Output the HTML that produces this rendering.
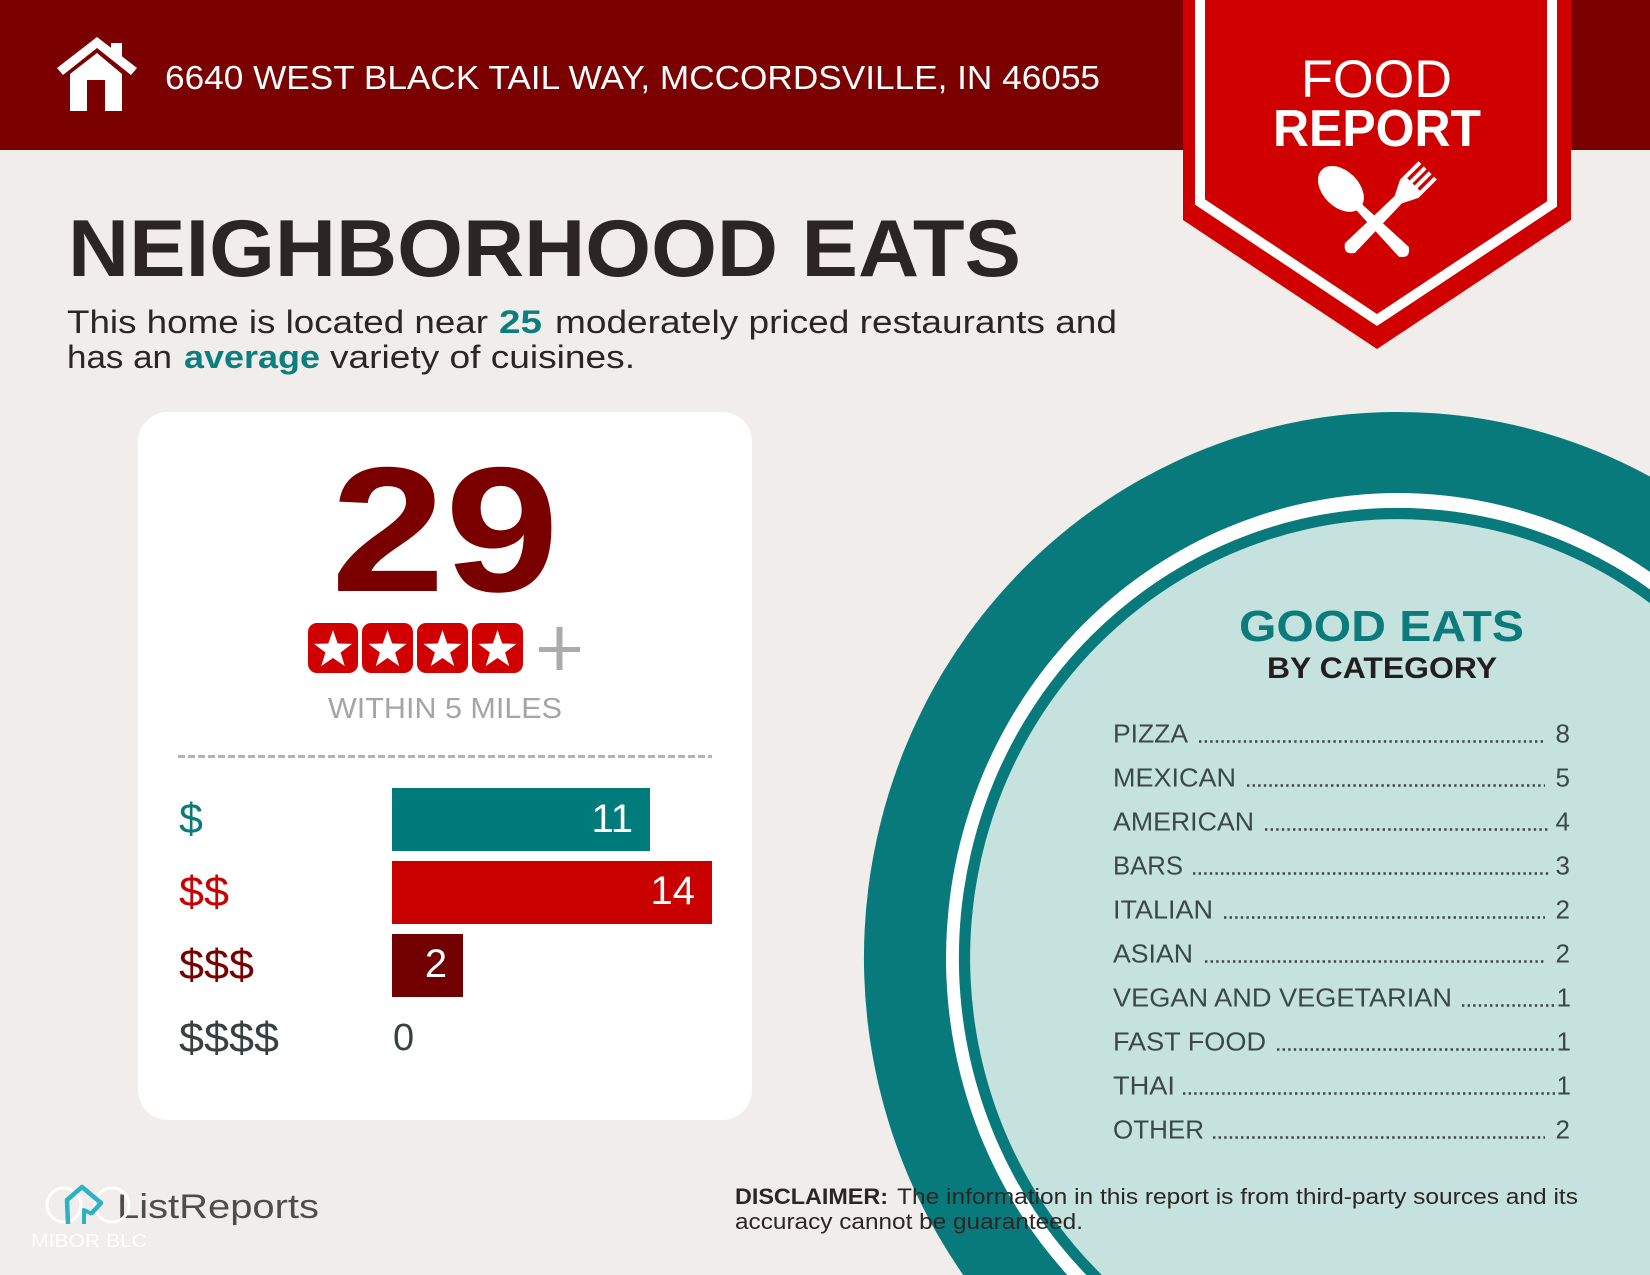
<!DOCTYPE html>
<html>
<head>
<meta charset="utf-8">
<style>
  html,body{margin:0;padding:0;background:#f0edea;width:1650px;height:1275px;overflow:hidden;}
  svg{display:block;position:absolute;left:0;top:0;}
  text{font-family:"Liberation Sans", Arial, sans-serif;}
</style>
</head>
<body>
<svg width="1650" height="1275" viewBox="0 0 1650 1275" xmlns="http://www.w3.org/2000/svg">
  <!-- background -->
  <rect x="0" y="0" width="1650" height="1275" fill="#f0edea"/>

  <!-- plate / circle (clipped to frame via arc paths) -->
  <path d="M963.2,1275 A534,546 0 0 1 1650,476.6 L1650,1275 Z" fill="#097a7c"/>
  <path d="M1067.3,1275 A452,465 0 0 1 1650,572 L1650,1275 Z" fill="#ffffff"/>
  <path d="M1086.4,1275 A439,450 0 0 1 1650,589.5 L1650,1275 Z" fill="#097a7c"/>
  <path d="M1101.9,1275 A428,439 0 0 1 1650,603.2 L1650,1275 Z" fill="#c6e2df"/>

  <!-- header bar -->
  <rect x="0" y="0" width="1650" height="150" fill="#7b0000"/>

  <!-- house icon -->
  <g fill="#ffffff">
    <polygon points="57,68 97,37 137,68 131,75 97,48 63,75"/>
    <rect x="111" y="43" width="11" height="14"/>
    <polygon points="70,111 70,74 97,53 122,74 122,111"/>
  </g>
  <rect x="87" y="80" width="18" height="31" fill="#7b0000"/>

  <text x="165" y="89" font-size="33" fill="#ffffff" textLength="935" lengthAdjust="spacingAndGlyphs">6640 WEST BLACK TAIL WAY, MCCORDSVILLE, IN 46055</text>

  <!-- badge -->
  <polygon points="1183,0 1571,0 1571,220 1377,349 1183,220" fill="#d10000"/>
  <polyline points="1200,0 1200,202 1377,320 1552,204 1552,0" fill="none" stroke="#ffffff" stroke-width="10" stroke-linejoin="miter"/>
  <text x="1301" y="97" font-size="53" fill="#ffffff" textLength="151" lengthAdjust="spacingAndGlyphs">FOOD</text>
  <text x="1273" y="146" font-size="52" font-weight="bold" fill="#ffffff" textLength="208" lengthAdjust="spacingAndGlyphs">REPORT</text>

  <!-- spoon -->
  <g transform="translate(1360,208) rotate(-45)" fill="#ffffff">
    <ellipse cx="0" cy="-27" rx="18" ry="27"/>
    <path d="M-4,-4 L4,-4 L7,62 Q0,72 -7,62 Z"/>
  </g>
  <!-- fork -->
  <g transform="translate(1398,200) rotate(45)" fill="#ffffff">
    <path d="M-5,-6 L5,-6 L7,68 Q0,78 -7,68 Z"/>
    <path d="M-5,0 L-13,-16 L-13,-22 L13,-22 L13,-16 L5,0 Z"/>
    <rect x="-13" y="-42" width="4" height="22"/>
    <rect x="-5.5" y="-42" width="4" height="22"/>
    <rect x="1.5" y="-42" width="4" height="22"/>
    <rect x="9" y="-42" width="4" height="22"/>
  </g>

  <!-- heading -->
  <text x="68" y="276" font-size="81" font-weight="bold" fill="#2b2624" textLength="953" lengthAdjust="spacingAndGlyphs">NEIGHBORHOOD EATS</text>

  <text x="67" y="333" font-size="32" fill="#2b2624" textLength="421" lengthAdjust="spacingAndGlyphs">This home is located near</text>
  <text x="499" y="333" font-size="32" font-weight="bold" fill="#0b7f7f" textLength="43" lengthAdjust="spacingAndGlyphs">25</text>
  <text x="555" y="333" font-size="32" fill="#2b2624" textLength="562" lengthAdjust="spacingAndGlyphs">moderately priced restaurants and</text>
  <text x="67" y="368" font-size="32" fill="#2b2624" textLength="105" lengthAdjust="spacingAndGlyphs">has an</text>
  <text x="184" y="368" font-size="32" font-weight="bold" fill="#0b7f7f" textLength="136" lengthAdjust="spacingAndGlyphs">average</text>
  <text x="330" y="368" font-size="32" fill="#2b2624" textLength="305" lengthAdjust="spacingAndGlyphs">variety of cuisines.</text>

  <!-- card -->
  <rect x="138" y="412" width="614" height="708" rx="30" ry="30" fill="#ffffff"/>

  <text x="331" y="591" font-size="178" font-weight="bold" fill="#7a0000" textLength="228" lengthAdjust="spacingAndGlyphs">29</text>

  <!-- stars -->
  <g>
    <rect x="308" y="623" width="50" height="50" rx="9" fill="#d10000"/>
    <rect x="362" y="623" width="51" height="50" rx="9" fill="#d10000"/>
    <rect x="417" y="623" width="51" height="50" rx="9" fill="#d10000"/>
    <rect x="472" y="623" width="51" height="50" rx="9" fill="#d10000"/>
    <g fill="#ffffff">
      <polygon transform="translate(333,650)" points="0,-20 4.7,-6.47 19.02,-6.18 7.61,2.47 11.76,16.18 0,8 -11.76,16.18 -7.61,2.47 -19.02,-6.18 -4.7,-6.47"/>
      <polygon transform="translate(387.5,650)" points="0,-20 4.7,-6.47 19.02,-6.18 7.61,2.47 11.76,16.18 0,8 -11.76,16.18 -7.61,2.47 -19.02,-6.18 -4.7,-6.47"/>
      <polygon transform="translate(442.5,650)" points="0,-20 4.7,-6.47 19.02,-6.18 7.61,2.47 11.76,16.18 0,8 -11.76,16.18 -7.61,2.47 -19.02,-6.18 -4.7,-6.47"/>
      <polygon transform="translate(497.5,650)" points="0,-20 4.7,-6.47 19.02,-6.18 7.61,2.47 11.76,16.18 0,8 -11.76,16.18 -7.61,2.47 -19.02,-6.18 -4.7,-6.47"/>
    </g>
  </g>
  <rect x="556.5" y="627" width="6" height="43" fill="#ababab"/>
  <rect x="539" y="647" width="41" height="5" fill="#ababab"/>

  <text x="328" y="718" font-size="29" fill="#a5a5a5" textLength="234" lengthAdjust="spacingAndGlyphs">WITHIN 5 MILES</text>

  <line x1="178" y1="756.5" x2="712" y2="756.5" stroke="#b3b3b3" stroke-width="3" stroke-dasharray="7 3"/>

  <!-- price bars -->
  <rect x="392" y="788" width="258" height="63" fill="#007b7b"/>
  <rect x="392" y="861" width="320" height="63" fill="#c80000"/>
  <rect x="392" y="934" width="71" height="63" fill="#730000"/>

  <text x="633" y="832" font-size="40" fill="#ffffff" text-anchor="end">11</text>
  <text x="695" y="904" font-size="40" fill="#ffffff" text-anchor="end">14</text>
  <text x="436" y="977" font-size="40" fill="#ffffff" text-anchor="middle">2</text>
  <text x="393" y="1050" font-size="38" fill="#37413f">0</text>

  <text x="179" y="833" font-size="43" fill="#0a7b7b">$</text>
  <text x="179" y="906" font-size="43" fill="#cc0000" textLength="50" lengthAdjust="spacingAndGlyphs">$$</text>
  <text x="179" y="979" font-size="43" fill="#7a0000" textLength="75" lengthAdjust="spacingAndGlyphs">$$$</text>
  <text x="179" y="1052" font-size="43" fill="#37413f" textLength="100" lengthAdjust="spacingAndGlyphs">$$$$</text>

  <!-- good eats -->
  <text x="1239" y="641" font-size="44" font-weight="bold" fill="#0b7b7b" textLength="285" lengthAdjust="spacingAndGlyphs">GOOD EATS</text>
  <text x="1267" y="678" font-size="30" font-weight="bold" fill="#231f20" textLength="230" lengthAdjust="spacingAndGlyphs">BY CATEGORY</text>

  <g font-size="26" fill="#3a4846">
    <text x="1113" y="742.5" textLength="75" lengthAdjust="spacingAndGlyphs">PIZZA</text>
    <text x="1570" y="742.5" text-anchor="end">8</text>
    <text x="1113" y="786.5" textLength="123" lengthAdjust="spacingAndGlyphs">MEXICAN</text>
    <text x="1570" y="786.5" text-anchor="end">5</text>
    <text x="1113" y="830.5" textLength="141" lengthAdjust="spacingAndGlyphs">AMERICAN</text>
    <text x="1570" y="830.5" text-anchor="end">4</text>
    <text x="1113" y="874.5" textLength="70" lengthAdjust="spacingAndGlyphs">BARS</text>
    <text x="1570" y="874.5" text-anchor="end">3</text>
    <text x="1113" y="918.5" textLength="100" lengthAdjust="spacingAndGlyphs">ITALIAN</text>
    <text x="1570" y="918.5" text-anchor="end">2</text>
    <text x="1113" y="962.5" textLength="80" lengthAdjust="spacingAndGlyphs">ASIAN</text>
    <text x="1570" y="962.5" text-anchor="end">2</text>
    <text x="1113" y="1006.5" textLength="339" lengthAdjust="spacingAndGlyphs">VEGAN AND VEGETARIAN</text>
    <text x="1571" y="1006.5" text-anchor="end">1</text>
    <text x="1113" y="1050.5" textLength="153" lengthAdjust="spacingAndGlyphs">FAST FOOD</text>
    <text x="1571" y="1050.5" text-anchor="end">1</text>
    <text x="1113" y="1094.5" textLength="62" lengthAdjust="spacingAndGlyphs">THAI</text>
    <text x="1571" y="1094.5" text-anchor="end">1</text>
    <text x="1113" y="1138.5" textLength="91" lengthAdjust="spacingAndGlyphs">OTHER</text>
    <text x="1570" y="1138.5" text-anchor="end">2</text>
  </g>
  <g stroke="#3a4846" stroke-width="2.6" stroke-dasharray="2.4 3.2" fill="none">
    <line x1="1199" y1="741.5" x2="1545" y2="741.5"/>
    <line x1="1247" y1="785.5" x2="1545" y2="785.5"/>
    <line x1="1265" y1="829.5" x2="1549" y2="829.5"/>
    <line x1="1193" y1="873.5" x2="1549" y2="873.5"/>
    <line x1="1224" y1="917.5" x2="1545" y2="917.5"/>
    <line x1="1205" y1="961.5" x2="1545" y2="961.5"/>
    <line x1="1462" y1="1005.5" x2="1555" y2="1005.5"/>
    <line x1="1277" y1="1049.5" x2="1555" y2="1049.5"/>
    <line x1="1183" y1="1093.5" x2="1555" y2="1093.5"/>
    <line x1="1213" y1="1137.5" x2="1545" y2="1137.5"/>
  </g>

  <!-- disclaimer -->
  <text x="735" y="1204" font-size="22" font-weight="bold" fill="#2b2624" textLength="153" lengthAdjust="spacingAndGlyphs">DISCLAIMER:</text>
  <text x="897" y="1204" font-size="22" fill="#2b2624" textLength="681" lengthAdjust="spacingAndGlyphs">The information in this report is from third-party sources and its</text>
  <text x="735" y="1229" font-size="22" fill="#2b2624" textLength="348" lengthAdjust="spacingAndGlyphs">accuracy cannot be guaranteed.</text>

  <!-- footer logo -->
  <text x="117" y="1218" font-size="34" fill="#4d4d4d" textLength="202" lengthAdjust="spacingAndGlyphs">ListReports</text>
  <circle cx="64" cy="1205" r="17" fill="none" stroke="#ffffff" stroke-width="3"/>
  <circle cx="112" cy="1205" r="17" fill="none" stroke="#ffffff" stroke-width="3"/>
  <path d="M68,1224 L67,1200 L82,1187 L101,1203 L91,1214" fill="none" stroke="#2bb3c5" stroke-width="4.5" stroke-linejoin="round"/>
  <path d="M84,1224 L84,1210 L92,1214" fill="none" stroke="#2bb3c5" stroke-width="4" stroke-linejoin="round"/>
  <text x="31" y="1247" font-size="18" fill="#ffffff" textLength="116" lengthAdjust="spacingAndGlyphs">MIBOR BLC</text>
</svg>
</body>
</html>
